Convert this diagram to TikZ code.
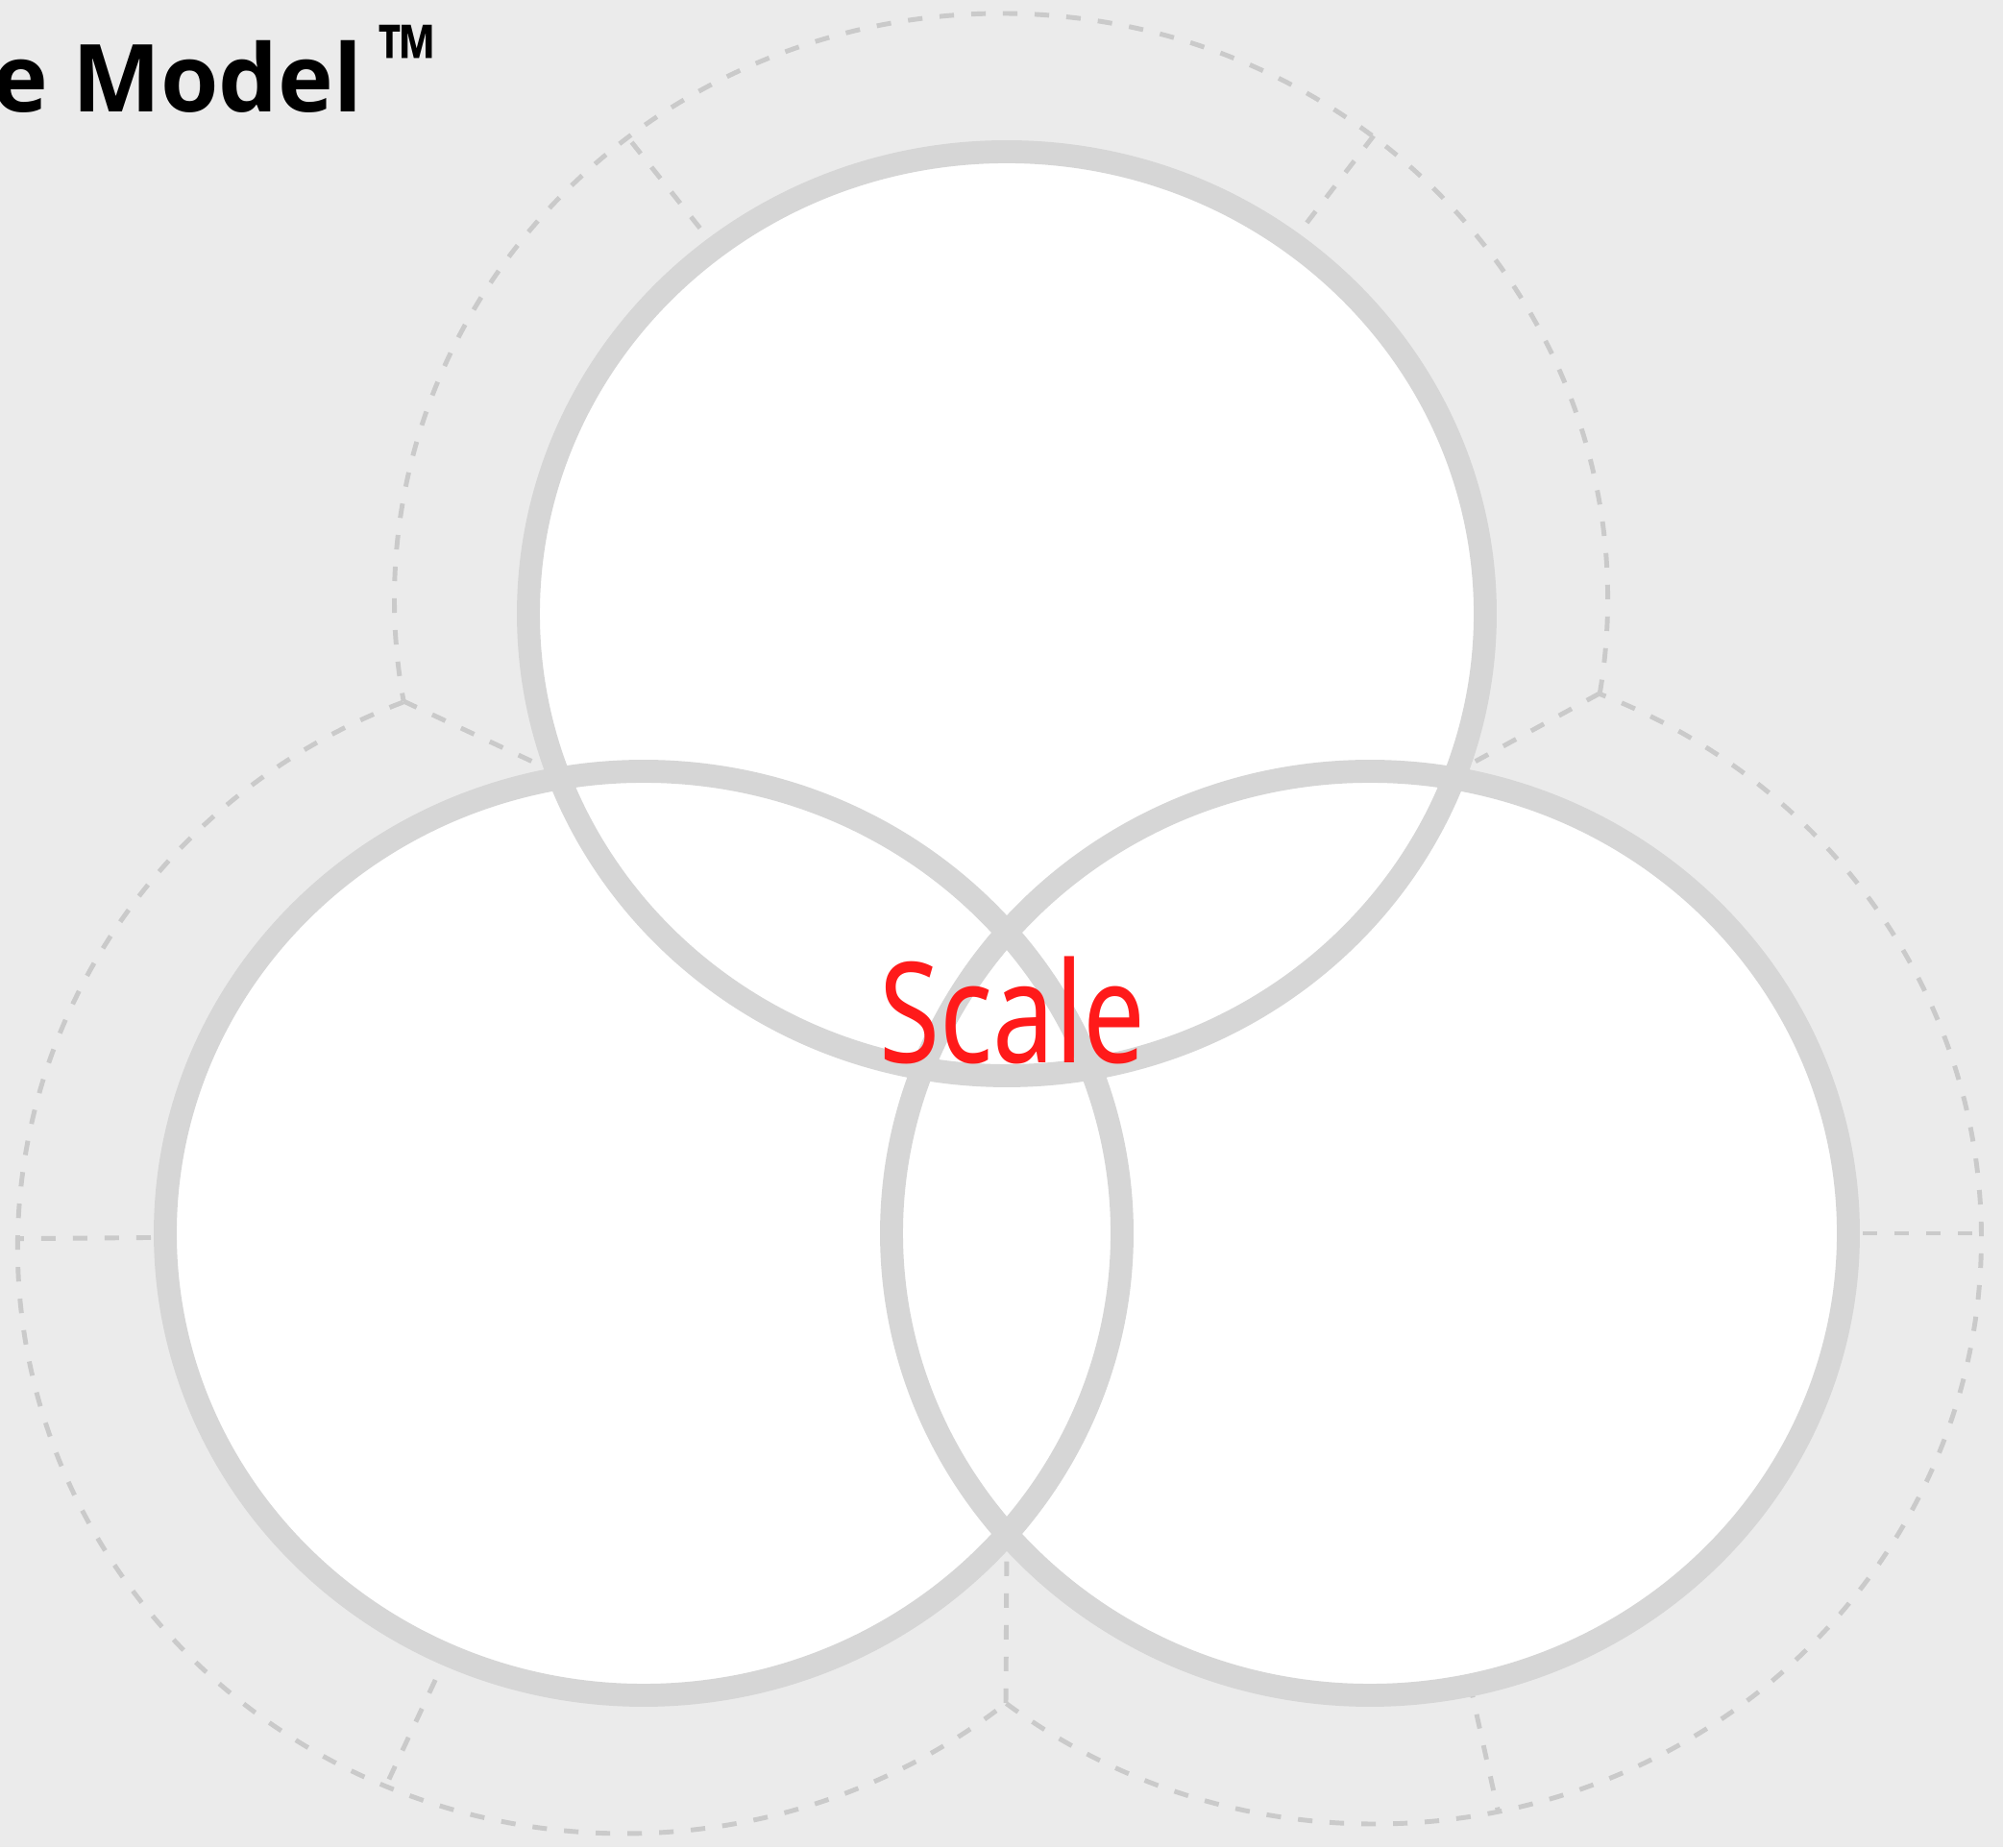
\documentclass[tikz,border=0pt]{standalone}
\usepackage{fontspec}
\usepackage{tikz, xcolor}
\usetikzlibrary{calc}

\newfontfamily\titlefont{Open Sans}
\newfontfamily\tmfont{Open Sans}[FakeStretch=0.8]
\newfontfamily\handfont{Noto Sans}[FakeStretch=0.79]

\definecolor{bggray}{HTML}{EBEBEB}
\definecolor{ringgray}{HTML}{D6D6D6}
\definecolor{dashgray}{HTML}{CACACA}
\definecolor{scalered}{HTML}{FF1A1A}

\begin{document}
\begin{tikzpicture}[
    guide/.style={color=dashgray, line width=1.4pt, dash pattern=on 4.3pt off 5.1pt},
    ring/.style={color=ringgray, line width=6.8pt}
  ]
    \fill [bggray] (0, 0) rectangle (20.85, 19.23);
    \useasboundingbox (0, 0) rectangle (20.85, 19.23);

    % circle centres (solid and dashed)
    \coordinate (tc) at (10.48, 12.84);
    \coordinate (lc) at (6.70, 6.39);
    \coordinate (rc) at (14.26, 6.39);
    \coordinate (tdc) at (10.42, 12.99);
    \coordinate (ldc) at (6.50, 6.24);
    \coordinate (rdc) at (14.31, 6.34);

    % where the dashed arcs meet, and where the rings cross
    \coordinate (jtl) at (4.20, 11.93);
    \coordinate (jtr) at (16.65, 12.01);
    \coordinate (jb) at (10.47, 1.50);
    \coordinate (xtl) at (5.80, 11.18);
    \coordinate (xtr) at (15.17, 11.20);
    \coordinate (xb) at (10.48, 3.23);

    \draw [guide] (tdc) ++(-9.3:6.315 and 6.1) arc [start angle=-9.3, end angle=190, x radius=6.315, y radius=6.1];
    \draw [guide] (ldc) ++(111.4:6.315 and 6.1) arc [start angle=111.4, end angle=308.9, x radius=6.315, y radius=6.1];
    \draw [guide] (rdc) ++(232.6:6.315 and 6.1) arc [start angle=232.6, end angle=428.3, x radius=6.315, y radius=6.1];

    \draw [guide] (jtl) to (xtl);
    \draw [guide] (jtr) to (xtr);
    \draw [guide] (jb) to (xb);

    \foreach \c/\a/\r in {tc/128.5/6.33, tc/52.5/6.28, lc/180.5/6.52, lc/245/6.29, rc/0/6.36, rc/282.5/6.18}
    {
      \draw [guide] ($(\c)+(\a:4.8)$) to ($(\c)+(\a:\r)$);
    }

    \foreach \c in {tc, lc, rc}
    {
      \fill [white] (\c) ellipse [x radius=4.98, y radius=4.81];
    }
    \foreach \c in {tc, lc, rc}
    {
      \draw [ring] (\c) ellipse [x radius=4.98, y radius=4.81];
    }

    \node [anchor=base east, inner sep=0] (title) at (3.78, 18.06) {\titlefont\bfseries\fontsize{27.8}{30}\selectfont e Model};
    \node [anchor=base west, inner sep=0] (tm) at (3.94, 18.26) {\tmfont\bfseries\fontsize{28}{30}\selectfont ™};

    \node [anchor=base, inner sep=0, text=scalered] (scale) at (10.54, 8.16) {\handfont\fontsize{41.4}{45}\selectfont Scale};
  \end{tikzpicture}
\end{document}
